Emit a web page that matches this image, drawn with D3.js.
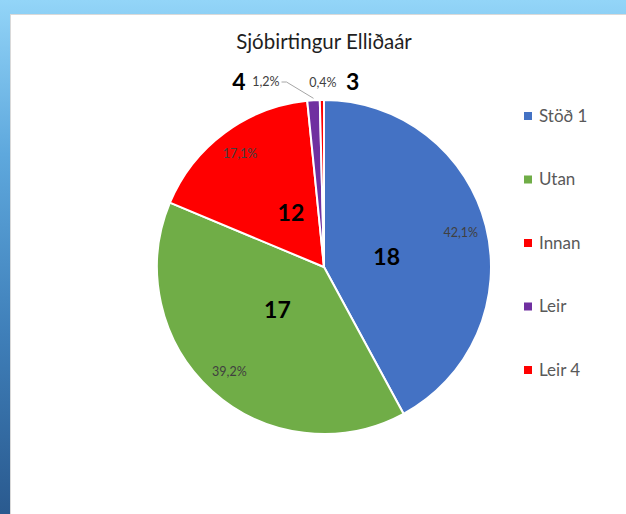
<!DOCTYPE html>
<html>
<head>
<meta charset="utf-8">
<script src="https://cdn.jsdelivr.net/npm/d3@7"></script>
<style>
  html, body { margin: 0; padding: 0; background: #fff; }
  svg { display: block; }
  text { font-family: Lato, "Open Sans", "Noto Sans", sans-serif; }
</style>
</head>
<body>
<svg id="chart" width="626" height="514"></svg>
<script>
const title = "Sjóbirtingur Elliðaár";
const categories = ["Stöð 1", "Utan", "Innan", "Leir", "Leir 4"];
const percents = [42.1, 39.2, 17.1, 1.2, 0.4];
const stationNumbers = [18, 17, 12, 4, 3];
const colors = ["#4472c4", "#70ad47", "#ff0000", "#7030a0", "#ff0000"];

const W = 626, H = 514;
const cx = 324, cy = 267, R = 167;

const svg = d3.select("#chart");

// slide background gradient
const defs = svg.append("defs");
const g1 = defs.append("linearGradient").attr("id", "bg").attr("x1", 0).attr("y1", 0).attr("x2", 0).attr("y2", 1);
g1.append("stop").attr("offset", "0%").attr("stop-color", "#93d5f8");
g1.append("stop").attr("offset", "6%").attr("stop-color", "#88cbf2");
g1.append("stop").attr("offset", "30%").attr("stop-color", "#5ea8dd");
g1.append("stop").attr("offset", "65%").attr("stop-color", "#3f7fb9");
g1.append("stop").attr("offset", "100%").attr("stop-color", "#2a5a8f");
svg.append("rect").attr("width", W).attr("height", H).attr("fill", "url(#bg)");

// chart panel
svg.append("rect")
  .attr("x", 10.5).attr("y", 14.5).attr("width", W).attr("height", H)
  .attr("fill", "#ffffff").attr("stroke", "#d9d9d9").attr("stroke-width", 1);

// title
svg.append("text")
  .attr("x", cx).attr("y", 49)
  .attr("text-anchor", "middle")
  .attr("font-size", 20.5)
  .attr("fill", "#1f1f1f")
  .text(title);

const data = categories.map((c, i) => ({ cat: c, pct: percents[i], num: stationNumbers[i], color: colors[i] }));

const pie = d3.pie().value(d => d.pct).sort(null).startAngle(0).endAngle(2 * Math.PI);
const arcs = pie(data);
const arc = d3.arc().innerRadius(0).outerRadius(R);

const gPie = svg.append("g").attr("transform", `translate(${cx},${cy})`);
gPie.selectAll("path.slice")
  .data(arcs)
  .enter().append("path")
  .attr("class", "slice")
  .attr("d", arc)
  .attr("fill", d => d.data.color)
  .attr("stroke", "#ffffff")
  .attr("stroke-width", 2)
  .attr("stroke-linejoin", "round");

const fmt = v => d3.format(".1f")(v).replace(".", ",") + "%";
const midA = d => (d.startAngle + d.endAngle) / 2;
const polar = (a, r) => [r * Math.sin(a), -r * Math.cos(a)];

const big = arcs.filter(d => d.data.pct >= 5);
const small = arcs.filter(d => d.data.pct < 5);

// percent labels inside large slices
gPie.selectAll("text.pct")
  .data(big)
  .enter().append("text")
  .attr("class", "pct")
  .attr("transform", d => { const p = polar(midA(d), R * 0.845); return `translate(${p[0]},${p[1]})`; })
  .attr("text-anchor", "middle")
  .attr("dy", "0.35em")
  .attr("font-size", 12.5)
  .attr("fill", "#404040")
  .text(d => fmt(d.data.pct));

// station numbers inside large slices
gPie.selectAll("text.num")
  .data(big)
  .enter().append("text")
  .attr("class", "num")
  .attr("transform", d => { const p = polar(midA(d) + 0.09, R * 0.38); return `translate(${p[0]},${p[1]})`; })
  .attr("text-anchor", "middle")
  .attr("dy", "0.35em")
  .attr("font-size", 23)
  .attr("font-weight", "bold")
  .attr("fill", "#000000")
  .text(d => d.data.num);

// small slices: outside labels
const outY = -R - 18;
small.forEach((d, i) => {
  const a = midA(d);
  const edge = polar(a, R);
  const left = (i === 0);
  if (left) {
    const xEnd = edge[0] - 27;
    gPie.append("polyline")
      .attr("points", [[edge[0], edge[1] - 2], [xEnd, outY], [xEnd - 5, outY]].map(p => p.join(",")).join(" "))
      .attr("fill", "none").attr("stroke", "#a6a6a6").attr("stroke-width", 1);
    gPie.append("text")
      .attr("x", xEnd - 7).attr("y", outY).attr("dy", "0.35em")
      .attr("text-anchor", "end")
      .attr("font-size", 12.5).attr("fill", "#404040")
      .text(fmt(d.data.pct));
    gPie.append("text")
      .attr("x", xEnd - 7 - 34).attr("y", outY).attr("dy", "0.35em")
      .attr("text-anchor", "end")
      .attr("font-size", 23).attr("font-weight", "bold").attr("fill", "#000")
      .text(d.data.num);
  } else {
    const x0 = edge[0] + 1;
    gPie.append("text")
      .attr("x", x0).attr("y", outY + 1).attr("dy", "0.35em")
      .attr("text-anchor", "middle")
      .attr("font-size", 12.5).attr("fill", "#404040")
      .text(fmt(d.data.pct));
    gPie.append("text")
      .attr("x", x0 + 23).attr("y", outY).attr("dy", "0.35em")
      .attr("text-anchor", "start")
      .attr("font-size", 23).attr("font-weight", "bold").attr("fill", "#000")
      .text(d.data.num);
  }
});

// legend
const legY = d3.scalePoint().domain(categories).range([116, 370]);
const leg = svg.append("g");
const items = leg.selectAll("g").data(data).enter().append("g")
  .attr("transform", d => `translate(524,${legY(d.cat)})`);
items.append("rect").attr("x", 0).attr("y", -4).attr("width", 8).attr("height", 8).attr("fill", d => d.color);
items.append("text").attr("x", 15).attr("y", 0).attr("dy", "0.35em")
  .attr("font-size", 17).attr("fill", "#595959").text(d => d.cat);
</script>
</body>
</html>
